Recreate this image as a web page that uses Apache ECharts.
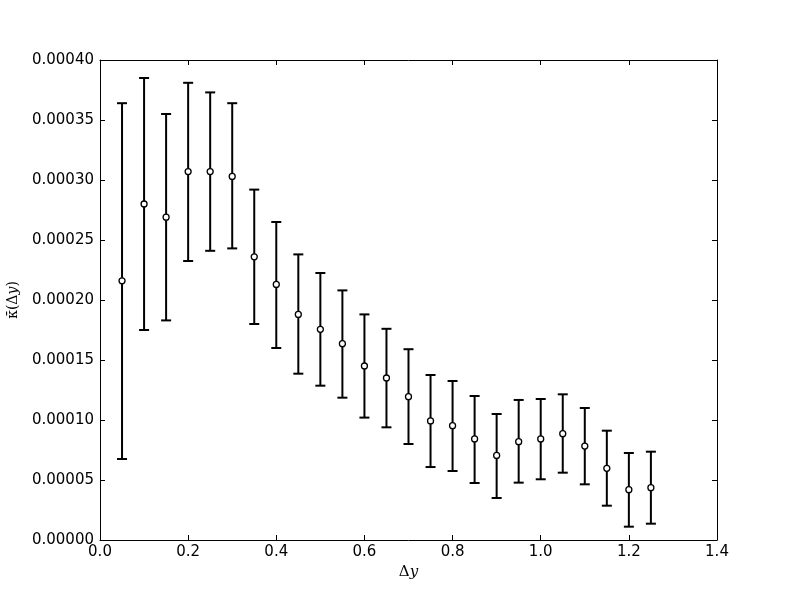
<!DOCTYPE html>
<html>
<head>
<meta charset="utf-8">
<script src="https://cdn.jsdelivr.net/npm/echarts@6/dist/echarts.min.js"></script>
<style>html,body{margin:0;padding:0;background:#fff;}#c{width:800px;height:600px;}</style>
</head>
<body>
<div id="c"></div>
<script>
const xs = [0.05,0.10,0.15,0.20,0.25,0.30,0.35,0.40,0.45,0.50,0.55,0.60,0.65,0.70,0.75,0.80,0.85,0.90,0.95,1.00,1.05,1.10,1.15,1.20,1.25];
const means = [0.000216,0.000280,0.000269,0.000307,0.000307,0.000303,0.000236,0.000213,0.000188,0.0001756,0.0001636,0.000145,0.000135,0.0001194,0.0000992,0.0000953,0.0000842,0.0000705,0.0000819,0.0000842,0.0000886,0.0000783,0.0000597,0.0000419,0.0000436];
const lows = [0.0000675,0.000175,0.000183,0.0002325,0.000241,0.000243,0.000180,0.000160,0.0001386,0.0001286,0.0001186,0.000102,0.0000939,0.0000800,0.0000608,0.0000575,0.0000475,0.0000350,0.0000478,0.0000506,0.0000561,0.0000464,0.0000286,0.0000111,0.0000136];
const highs = [0.000364,0.000385,0.000355,0.000381,0.000373,0.000364,0.000292,0.000265,0.000238,0.0002225,0.000208,0.000188,0.000176,0.000159,0.0001375,0.0001325,0.000120,0.0001050,0.0001167,0.0001175,0.0001214,0.000110,0.0000911,0.0000725,0.0000736];
const xTicks = [0.0,0.2,0.4,0.6,0.8,1.0,1.2,1.4];
const yTicks = [0,0.00005,0.0001,0.00015,0.0002,0.00025,0.0003,0.00035,0.0004];

const font = 'DejaVu Sans';
function axisCommon() {
  return {
    axisLine: {show: true, onZero: false, lineStyle: {color: '#000', width: 1}},
    axisTick: {show: true, inside: true, length: 5, lineStyle: {color: '#000', width: 1}},
    splitLine: {show: false}
  };
}
const chart = echarts.init(document.getElementById('c'));
chart.setOption({
  animation: false,
  backgroundColor: '#fff',
  grid: {left: 100, right: 83, top: 60, bottom: 60, containLabel: false, outerBoundsMode: 'none'},
  xAxis: [
    Object.assign({
      type: 'value', min: 0, max: 1.4, interval: 0.2, position: 'bottom',
      axisLabel: {color: '#000', fontFamily: font, fontSize: 15, margin: 5,
        formatter: v => v.toFixed(1)},
      name: '{n|Δ}{i|y}', nameLocation: 'middle', nameGap: 22,
      nameTextStyle: {rich: {
        n: {fontFamily: 'DejaVu Serif', fontSize: 15, color: '#000'},
        i: {fontFamily: 'DejaVu Serif', fontStyle: 'italic', fontSize: 15, color: '#000'}
      }}
    }, axisCommon()),
    Object.assign({
      type: 'value', min: 0, max: 1.4, interval: 0.2, position: 'top',
      axisLabel: {show: false}
    }, axisCommon())
  ],
  yAxis: [
    Object.assign({
      type: 'value', min: 0, max: 0.0004, interval: 0.00005, position: 'left',
      axisLabel: {color: '#000', fontFamily: font, fontSize: 15, margin: 6,
        formatter: v => v.toFixed(5)},
      name: '{n|κ̄(Δ}{i|y}{n|)}', nameLocation: 'middle', nameGap: 80, nameRotate: 90,
      nameTextStyle: {rich: {
        n: {fontFamily: 'DejaVu Serif', fontSize: 14, color: '#000'},
        i: {fontFamily: 'DejaVu Serif', fontStyle: 'italic', fontSize: 14, color: '#000'}
      }}
    }, axisCommon()),
    Object.assign({
      type: 'value', min: 0, max: 0.0004, interval: 0.00005, position: 'right',
      axisLabel: {show: false}
    }, axisCommon())
  ],
  series: [
    {
      type: 'custom',
      xAxisIndex: 0, yAxisIndex: 0,
      data: xs.map((x, i) => [x, lows[i], highs[i]]),
      renderItem: function (params, api) {
        const lo = api.coord([api.value(0), api.value(1)]);
        const hi = api.coord([api.value(0), api.value(2)]);
        const hw = 5;
        const st = {stroke: '#000', lineWidth: 2};
        return {type: 'group', children: [
          {type: 'line', shape: {x1: lo[0], y1: lo[1], x2: hi[0], y2: hi[1]}, style: st},
          {type: 'line', shape: {x1: lo[0]-hw, y1: lo[1], x2: lo[0]+hw, y2: lo[1]}, style: st},
          {type: 'line', shape: {x1: hi[0]-hw, y1: hi[1], x2: hi[0]+hw, y2: hi[1]}, style: st}
        ]};
      },
      z: 2
    },
    {
      type: 'scatter',
      xAxisIndex: 0, yAxisIndex: 0,
      data: xs.map((x, i) => [x, means[i]]),
      symbol: 'circle', symbolSize: 6,
      itemStyle: {color: '#fff', borderColor: '#000', borderWidth: 1.3, opacity: 1},
      z: 3
    }
  ]
});
</script>
</body>
</html>
